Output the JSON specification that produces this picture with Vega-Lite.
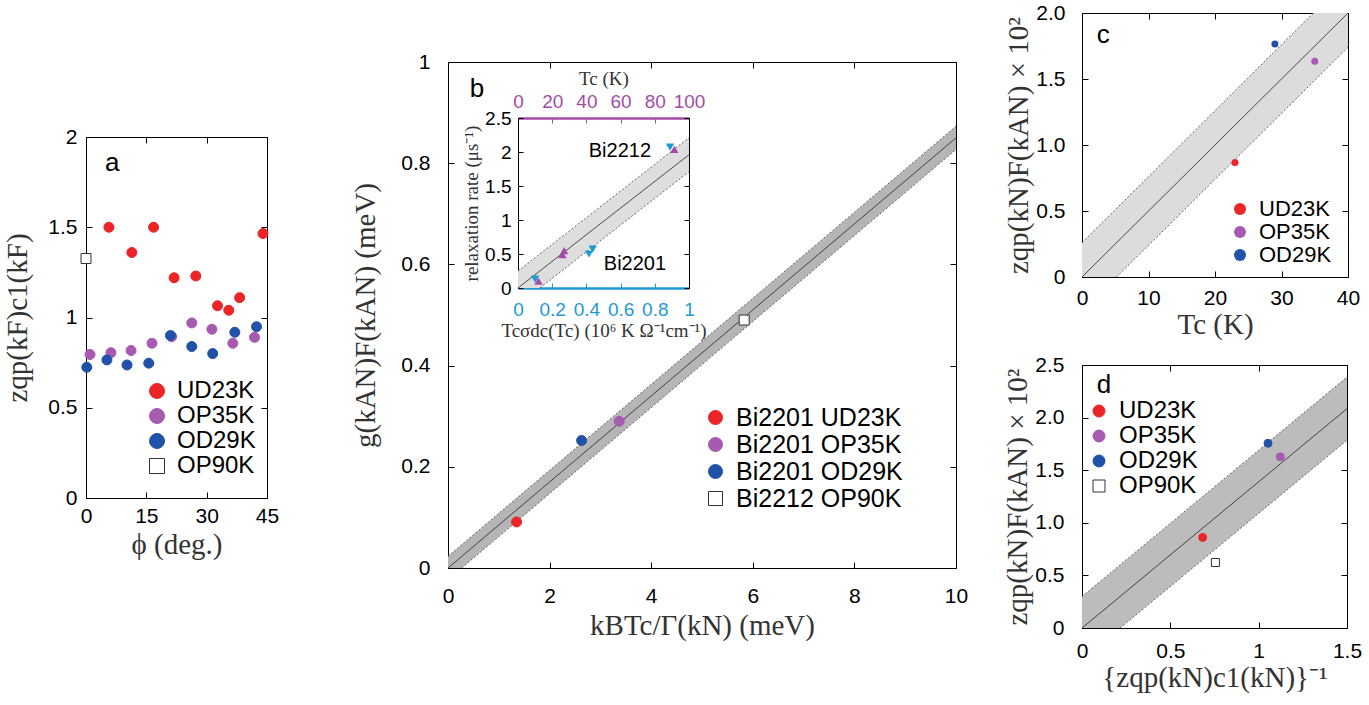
{
"$schema": "https://vega.github.io/schema/vega-lite/v6.json",
"width": 1369, "height": 705, "autosize": "none", "padding": 0, "background": "white",
"config": {
  "view": {"stroke": null},
  "axis": {"grid": false, "zindex": 1, "domainColor": "#000", "domainWidth": 1, "tickColor": "#000", "tickSize": -6, "tickWidth": 1,
    "labelFont": "Liberation Sans", "labelFontSize": 21, "labelColor": "#000", "labelFlush": false, "labelOverlap": false, "labelPadding": 12,
    "titleFont": "Liberation Serif", "titleFontSize": 29, "titleFontWeight": "normal", "titleColor": "#333"},
  "legend": {"labelFont": "Liberation Sans", "labelFontSize": 24, "labelColor": "#000", "labelLimit": 400, "symbolOpacity": 1, "symbolStrokeWidth": 1, "labelOffset": 8, "rowPadding": 1},
  "text": {"font": "Liberation Sans", "color": "#000"}
},
"datasets": {
  "aPts": [
    {"phi": 5.7, "v": 1.50, "s": "UD23K"}, {"phi": 11.4, "v": 1.36, "s": "UD23K"}, {"phi": 16.8, "v": 1.50, "s": "UD23K"},
    {"phi": 21.9, "v": 1.22, "s": "UD23K"}, {"phi": 27.3, "v": 1.23, "s": "UD23K"}, {"phi": 32.7, "v": 1.065, "s": "UD23K"},
    {"phi": 35.5, "v": 1.04, "s": "UD23K"}, {"phi": 38.2, "v": 1.11, "s": "UD23K"}, {"phi": 44.0, "v": 1.465, "s": "UD23K"},
    {"phi": 1.0, "v": 0.795, "s": "OP35K"}, {"phi": 6.2, "v": 0.805, "s": "OP35K"}, {"phi": 11.2, "v": 0.817, "s": "OP35K"},
    {"phi": 16.4, "v": 0.857, "s": "OP35K"}, {"phi": 21.3, "v": 0.894, "s": "OP35K"}, {"phi": 26.3, "v": 0.97, "s": "OP35K"},
    {"phi": 31.3, "v": 0.935, "s": "OP35K"}, {"phi": 36.5, "v": 0.857, "s": "OP35K"}, {"phi": 41.9, "v": 0.89, "s": "OP35K"},
    {"phi": 0.2, "v": 0.724, "s": "OD29K"}, {"phi": 5.2, "v": 0.765, "s": "OD29K"}, {"phi": 10.2, "v": 0.737, "s": "OD29K"},
    {"phi": 15.6, "v": 0.747, "s": "OD29K"}, {"phi": 21.0, "v": 0.90, "s": "OD29K"}, {"phi": 26.3, "v": 0.839, "s": "OD29K"},
    {"phi": 31.5, "v": 0.80, "s": "OD29K"}, {"phi": 37.0, "v": 0.918, "s": "OD29K"}, {"phi": 42.4, "v": 0.949, "s": "OD29K"},
    {"phi": 0.0, "v": 1.327, "s": "OP90K"}
  ],
  "bPts": [
    {"x": 1.35, "y": 0.091, "s": "Bi2201 UD23K"}, {"x": 3.37, "y": 0.290, "s": "Bi2201 OP35K"},
    {"x": 2.63, "y": 0.252, "s": "Bi2201 OD29K"}, {"x": 5.83, "y": 0.490, "s": "Bi2212 OP90K"}
  ],
  "bBand": [{"x": 0, "lo": 0, "hi": 0.023}, {"x": 0.27, "lo": 0, "hi": 0.046}, {"x": 10, "lo": 0.827, "hi": 0.873}],
  "bEdge": [{"x": 0, "y": 0.023, "e": "u"}, {"x": 10, "y": 0.873, "e": "u"}, {"x": 0.27, "y": 0, "e": "l"}, {"x": 10, "y": 0.827, "e": "l"}],
  "bLine": [{"x": 0, "y": 0}, {"x": 10, "y": 0.85}],
  "iBand": [{"x": 0, "lo": 0, "hi": 0.25}, {"x": 0.128, "lo": 0, "hi": 0.5}, {"x": 1, "lo": 1.71, "hi": 2.21}],
  "iEdge": [{"x": 0, "y": 0.25, "e": "u"}, {"x": 1, "y": 2.21, "e": "u"}, {"x": 0.128, "y": 0, "e": "l"}, {"x": 1, "y": 1.71, "e": "l"}],
  "iLine": [{"x": 0, "y": 0}, {"x": 1, "y": 1.96}],
  "iSigma": [{"x": 0.10, "v": 0.13}, {"x": 0.415, "v": 0.50}, {"x": 0.437, "v": 0.57}, {"x": 0.889, "v": 2.07}],
  "iTc": [{"tc": 12, "v": 0.10}, {"tc": 26, "v": 0.49}, {"tc": 27, "v": 0.55}, {"tc": 91.4, "v": 2.04}],
  "cPts": [{"tc": 23, "v": 0.868, "s": "UD23K"}, {"tc": 35, "v": 1.635, "s": "OP35K"}, {"tc": 29, "v": 1.765, "s": "OD29K"}],
  "cBand": [{"x": 0, "lo": 0, "hi": 0.26}, {"x": 5.2, "lo": 0, "hi": 0.52}, {"x": 34.8, "lo": 1.48, "hi": 2.0}, {"x": 40, "lo": 1.74, "hi": 2.0}],
  "cEdge": [{"x": 0, "y": 0.26, "e": "u"}, {"x": 34.8, "y": 2.0, "e": "u"}, {"x": 5.2, "y": 0, "e": "l"}, {"x": 40, "y": 1.74, "e": "l"}],
  "cLine": [{"x": 0, "y": 0}, {"x": 40, "y": 2.0}],
  "dPts": [{"x": 0.683, "y": 0.861, "s": "UD23K"}, {"x": 1.123, "y": 1.627, "s": "OP35K"}, {"x": 1.053, "y": 1.756, "s": "OD29K"}, {"x": 0.755, "y": 0.623, "s": "OP90K"}],
  "dBand": [{"x": 0, "lo": 0, "hi": 0.3}, {"x": 0.216, "lo": 0, "hi": 0.6}, {"x": 1.5, "lo": 1.785, "hi": 2.385}],
  "dEdge": [{"x": 0, "y": 0.3, "e": "u"}, {"x": 1.5, "y": 2.385, "e": "u"}, {"x": 0.216, "y": 0, "e": "l"}, {"x": 1.5, "y": 1.785, "e": "l"}],
  "dLine": [{"x": 0, "y": 0}, {"x": 1.5, "y": 2.085}]
},
"layer": [
  {"data": {"name": "aPts"},
   "mark": {"type": "point", "filled": true, "opacity": 1, "size": 100, "strokeWidth": 1},
   "encoding": {
     "x": {"field": "phi", "type": "quantitative", "scale": {"domain": [0, 45], "range": [86, 267], "nice": false, "zero": false},
       "axis": {"orient": "bottom", "offset": -207, "values": [0, 15, 30, 45], "labelPadding": 13, "title": "ϕ (deg.)", "titlePadding": 4}},
     "y": {"field": "v", "type": "quantitative", "scale": {"domain": [0, 2], "range": [498, 137], "nice": false, "zero": false},
       "axis": {"orient": "left", "offset": -86, "values": [0, 0.5, 1, 1.5, 2], "format": "~g", "labelPadding": 15, "title": "zqp(kF)c1(kF)", "titlePadding": 15}},
     "fill": {"field": "s", "type": "nominal", "scale": {"domain": ["UD23K", "OP35K", "OD29K", "OP90K"], "range": ["#eb2428", "#a65ab0", "#2152a8", "#ffffff"]},
       "legend": {"title": null, "orient": "none", "legendX": 145, "legendY": 379, "symbolSize": 225}},
     "stroke": {"field": "s", "type": "nominal", "scale": {"domain": ["UD23K", "OP35K", "OD29K", "OP90K"], "range": ["#eb2428", "#a65ab0", "#2152a8", "#333333"]},
       "legend": {"title": null, "orient": "none", "legendX": 145, "legendY": 379, "symbolSize": 225}},
     "shape": {"field": "s", "type": "nominal", "scale": {"domain": ["UD23K", "OP35K", "OD29K", "OP90K"], "range": ["circle", "circle", "circle", "square"]},
       "legend": {"title": null, "orient": "none", "legendX": 145, "legendY": 379, "symbolSize": 225}}
   }},
  {"data": {"values": [{}]},
   "mark": {"type": "text", "fontSize": 26},
   "encoding": {
     "x": {"datum": 6.5, "type": "quantitative", "scale": {"domain": [0, 45], "range": [86, 267], "nice": false, "zero": false},
       "axis": {"orient": "top", "offset": -137, "values": [0, 15, 30, 45], "labels": false, "title": null}},
     "y": {"datum": 1.856, "type": "quantitative", "scale": {"domain": [0, 2], "range": [498, 137], "nice": false, "zero": false},
       "axis": {"orient": "right", "offset": -1102, "values": [0, 0.5, 1, 1.5, 2], "labels": false, "title": null}},
     "text": {"value": "a"}
   }},

  {"data": {"name": "bBand"},
   "mark": {"type": "area", "color": "#b5b5b5", "opacity": 1},
   "encoding": {
     "x": {"field": "x", "type": "quantitative", "scale": {"domain": [0, 10], "range": [448, 956], "nice": false, "zero": false}, "axis": null},
     "y": {"field": "hi", "type": "quantitative", "scale": {"domain": [0, 1], "range": [568, 62], "nice": false, "zero": false}, "axis": null},
     "y2": {"field": "lo"}
   }},
  {"data": {"name": "bEdge"},
   "mark": {"type": "line", "color": "#444", "strokeWidth": 0.8, "strokeDash": [2, 2]},
   "encoding": {
     "x": {"field": "x", "type": "quantitative", "scale": {"domain": [0, 10], "range": [448, 956], "nice": false, "zero": false}, "axis": null},
     "y": {"field": "y", "type": "quantitative", "scale": {"domain": [0, 1], "range": [568, 62], "nice": false, "zero": false}, "axis": null},
     "detail": {"field": "e"}
   }},
  {"data": {"name": "bLine"},
   "mark": {"type": "line", "color": "#222", "strokeWidth": 0.8},
   "encoding": {
     "x": {"field": "x", "type": "quantitative", "scale": {"domain": [0, 10], "range": [448, 956], "nice": false, "zero": false}, "axis": null},
     "y": {"field": "y", "type": "quantitative", "scale": {"domain": [0, 1], "range": [568, 62], "nice": false, "zero": false}, "axis": null}
   }},
  {"data": {"name": "bPts"},
   "mark": {"type": "point", "filled": true, "opacity": 1, "size": 100, "strokeWidth": 1},
   "encoding": {
     "x": {"field": "x", "type": "quantitative", "scale": {"domain": [0, 10], "range": [448, 956], "nice": false, "zero": false},
       "axis": {"orient": "bottom", "offset": -137, "values": [0, 2, 4, 6, 8, 10], "labelPadding": 23, "title": "kBTc/Γ(kN) (meV)", "titlePadding": 5}},
     "y": {"field": "y", "type": "quantitative", "scale": {"domain": [0, 1], "range": [568, 62], "nice": false, "zero": false},
       "axis": {"orient": "left", "offset": -448, "values": [0, 0.2, 0.4, 0.6, 0.8, 1], "format": "~g", "labelPadding": 24, "title": "g(kAN)F(kAN) (meV)", "titlePadding": 20}},
     "fill": {"field": "s", "type": "nominal", "scale": {"domain": ["Bi2201 UD23K", "Bi2201 OP35K", "Bi2201 OD29K", "Bi2212 OP90K"], "range": ["#eb2428", "#a65ab0", "#2152a8", "#ffffff"]},
       "legend": {"title": null, "orient": "none", "legendX": 703, "legendY": 405, "symbolSize": 196, "labelFontSize": 25}},
     "stroke": {"field": "s", "type": "nominal", "scale": {"domain": ["Bi2201 UD23K", "Bi2201 OP35K", "Bi2201 OD29K", "Bi2212 OP90K"], "range": ["#eb2428", "#a65ab0", "#2152a8", "#333333"]},
       "legend": {"title": null, "orient": "none", "legendX": 703, "legendY": 405, "symbolSize": 196, "labelFontSize": 25}},
     "shape": {"field": "s", "type": "nominal", "scale": {"domain": ["Bi2201 UD23K", "Bi2201 OP35K", "Bi2201 OD29K", "Bi2212 OP90K"], "range": ["circle", "circle", "circle", "square"]},
       "legend": {"title": null, "orient": "none", "legendX": 703, "legendY": 405, "symbolSize": 196, "labelFontSize": 25}}
   }},
  {"data": {"values": [{}]},
   "mark": {"type": "text", "fontSize": 26},
   "encoding": {
     "x": {"datum": 0.57, "type": "quantitative", "scale": {"domain": [0, 10], "range": [448, 956], "nice": false, "zero": false},
       "axis": {"orient": "top", "offset": -62, "values": [0, 2, 4, 6, 8, 10], "labels": false, "title": null}},
     "y": {"datum": 0.947, "type": "quantitative", "scale": {"domain": [0, 1], "range": [568, 62], "nice": false, "zero": false},
       "axis": {"orient": "right", "offset": -413, "values": [0, 0.2, 0.4, 0.6, 0.8, 1], "labels": false, "title": null}},
     "text": {"value": "b"}
   }},

  {"data": {"name": "iBand"},
   "mark": {"type": "area", "color": "#dedede", "opacity": 1},
   "encoding": {
     "x": {"field": "x", "type": "quantitative", "scale": {"domain": [0, 1], "range": [518, 689], "nice": false, "zero": false}, "axis": null},
     "y": {"field": "hi", "type": "quantitative", "scale": {"domain": [0, 2.5], "range": [288, 118], "nice": false, "zero": false}, "axis": null},
     "y2": {"field": "lo"}
   }},
  {"data": {"name": "iEdge"},
   "mark": {"type": "line", "color": "#444", "strokeWidth": 0.8, "strokeDash": [2, 2]},
   "encoding": {
     "x": {"field": "x", "type": "quantitative", "scale": {"domain": [0, 1], "range": [518, 689], "nice": false, "zero": false}, "axis": null},
     "y": {"field": "y", "type": "quantitative", "scale": {"domain": [0, 2.5], "range": [288, 118], "nice": false, "zero": false}, "axis": null},
     "detail": {"field": "e"}
   }},
  {"data": {"name": "iLine"},
   "mark": {"type": "line", "color": "#222", "strokeWidth": 0.8},
   "encoding": {
     "x": {"field": "x", "type": "quantitative", "scale": {"domain": [0, 1], "range": [518, 689], "nice": false, "zero": false}, "axis": null},
     "y": {"field": "y", "type": "quantitative", "scale": {"domain": [0, 2.5], "range": [288, 118], "nice": false, "zero": false}, "axis": null}
   }},
  {"data": {"name": "iSigma"},
   "mark": {"type": "point", "filled": true, "opacity": 1, "size": 70, "shape": "triangle-down", "color": "#1c9ad6"},
   "encoding": {
     "x": {"field": "x", "type": "quantitative", "scale": {"domain": [0, 1], "range": [518, 689], "nice": false, "zero": false},
       "axis": {"orient": "bottom", "offset": -417, "values": [0, 0.2, 0.4, 0.6, 0.8, 1], "format": "~g", "labelColor": "#1c9ad6", "domainColor": "#1c9ad6", "domainWidth": 2.5, "tickColor": "#1c9ad6", "tickSize": -5, "labelFontSize": 19, "labelPadding": 17,
         "title": "Tcσdc(Tc) (10⁶ K Ω⁻¹cm⁻¹)", "titleFontSize": 19, "titlePadding": 2}},
     "y": {"field": "v", "type": "quantitative", "scale": {"domain": [0, 2.5], "range": [288, 118], "nice": false, "zero": false},
       "axis": {"orient": "left", "offset": -518, "values": [0, 0.5, 1, 1.5, 2, 2.5], "format": "~g", "tickSize": -5, "labelFontSize": 19, "labelPadding": 12,
         "title": "relaxation rate (μs⁻¹)", "titleFontSize": 19, "titlePadding": 3}}
   }},
  {"data": {"name": "iTc"},
   "mark": {"type": "point", "filled": true, "opacity": 1, "size": 70, "shape": "triangle-up", "color": "#a34ca6"},
   "encoding": {
     "x": {"field": "tc", "type": "quantitative", "scale": {"domain": [0, 100], "range": [518, 689], "nice": false, "zero": false},
       "axis": {"orient": "top", "offset": -118, "values": [0, 20, 40, 60, 80, 100], "labelColor": "#a34ca6", "domainColor": "#a34ca6", "domainWidth": 2.5, "tickColor": "#a34ca6", "tickSize": -5, "labelFontSize": 19, "labelPadding": 12,
         "title": "Tc (K)", "titleFontSize": 19, "titlePadding": 4}},
     "y": {"field": "v", "type": "quantitative", "scale": {"domain": [0, 2.5], "range": [288, 118], "nice": false, "zero": false},
       "axis": {"orient": "right", "offset": -680, "values": [0, 0.5, 1, 1.5, 2, 2.5], "tickSize": -5, "labels": false, "title": null}}
   }},
  {"data": {"values": [{}]},
   "mark": {"type": "text", "fontSize": 20},
   "encoding": {
     "x": {"datum": 0.596, "type": "quantitative", "scale": {"domain": [0, 1], "range": [518, 689], "nice": false, "zero": false}, "axis": null},
     "y": {"datum": 2.01, "type": "quantitative", "scale": {"domain": [0, 2.5], "range": [288, 118], "nice": false, "zero": false}, "axis": null},
     "text": {"value": "Bi2212"}
   }},
  {"data": {"values": [{}]},
   "mark": {"type": "text", "fontSize": 20},
   "encoding": {
     "x": {"datum": 0.684, "type": "quantitative", "scale": {"domain": [0, 1], "range": [518, 689], "nice": false, "zero": false}, "axis": null},
     "y": {"datum": 0.35, "type": "quantitative", "scale": {"domain": [0, 2.5], "range": [288, 118], "nice": false, "zero": false}, "axis": null},
     "text": {"value": "Bi2201"}
   }},

  {"data": {"name": "cBand"},
   "mark": {"type": "area", "color": "#dcdcdc", "opacity": 1},
   "encoding": {
     "x": {"field": "x", "type": "quantitative", "scale": {"domain": [0, 40], "range": [1082, 1348], "nice": false, "zero": false}, "axis": null},
     "y": {"field": "hi", "type": "quantitative", "scale": {"domain": [0, 2], "range": [277, 13], "nice": false, "zero": false}, "axis": null},
     "y2": {"field": "lo"}
   }},
  {"data": {"name": "cEdge"},
   "mark": {"type": "line", "color": "#444", "strokeWidth": 0.8, "strokeDash": [2, 2]},
   "encoding": {
     "x": {"field": "x", "type": "quantitative", "scale": {"domain": [0, 40], "range": [1082, 1348], "nice": false, "zero": false}, "axis": null},
     "y": {"field": "y", "type": "quantitative", "scale": {"domain": [0, 2], "range": [277, 13], "nice": false, "zero": false}, "axis": null},
     "detail": {"field": "e"}
   }},
  {"data": {"name": "cLine"},
   "mark": {"type": "line", "color": "#222", "strokeWidth": 0.8},
   "encoding": {
     "x": {"field": "x", "type": "quantitative", "scale": {"domain": [0, 40], "range": [1082, 1348], "nice": false, "zero": false}, "axis": null},
     "y": {"field": "y", "type": "quantitative", "scale": {"domain": [0, 2], "range": [277, 13], "nice": false, "zero": false}, "axis": null}
   }},
  {"data": {"name": "cPts"},
   "mark": {"type": "point", "filled": true, "opacity": 1, "size": 49},
   "encoding": {
     "x": {"field": "tc", "type": "quantitative", "scale": {"domain": [0, 40], "range": [1082, 1348], "nice": false, "zero": false},
       "axis": {"orient": "bottom", "offset": -428, "values": [0, 10, 20, 30, 40], "labelPadding": 16, "title": "Tc (K)", "titlePadding": 2}},
     "y": {"field": "v", "type": "quantitative", "scale": {"domain": [0, 2], "range": [277, 13], "nice": false, "zero": false},
       "axis": {"orient": "left", "offset": -1082, "values": [0, 0.5, 1, 1.5, 2], "labelExpr": "datum.value == 0 ? '0' : format(datum.value, '.1f')", "labelPadding": 23, "title": "zqp(kN)F(kAN) × 10²", "titlePadding": 2}},
     "color": {"field": "s", "type": "nominal", "scale": {"domain": ["UD23K", "OP35K", "OD29K"], "range": ["#eb2428", "#a65ab0", "#2152a8"]},
       "legend": {"title": null, "orient": "none", "legendX": 1229, "legendY": 198, "symbolSize": 144, "symbolType": "circle", "labelFontSize": 22, "rowPadding": 1}}
   }},
  {"data": {"values": [{}]},
   "mark": {"type": "text", "fontSize": 26},
   "encoding": {
     "x": {"datum": 3.2, "type": "quantitative", "scale": {"domain": [0, 40], "range": [1082, 1348], "nice": false, "zero": false},
       "axis": {"orient": "top", "offset": -13, "values": [0, 10, 20, 30, 40], "labels": false, "title": null}},
     "y": {"datum": 1.83, "type": "quantitative", "scale": {"domain": [0, 2], "range": [277, 13], "nice": false, "zero": false},
       "axis": {"orient": "right", "offset": -21, "values": [0, 0.5, 1, 1.5, 2], "labels": false, "title": null}},
     "text": {"value": "c"}
   }},

  {"data": {"name": "dBand"},
   "mark": {"type": "area", "color": "#bcbcbc", "opacity": 1},
   "encoding": {
     "x": {"field": "x", "type": "quantitative", "scale": {"domain": [0, 1.5], "range": [1082, 1347], "nice": false, "zero": false}, "axis": null},
     "y": {"field": "hi", "type": "quantitative", "scale": {"domain": [0, 2.5], "range": [628, 365], "nice": false, "zero": false}, "axis": null},
     "y2": {"field": "lo"}
   }},
  {"data": {"name": "dEdge"},
   "mark": {"type": "line", "color": "#444", "strokeWidth": 0.8, "strokeDash": [2, 2]},
   "encoding": {
     "x": {"field": "x", "type": "quantitative", "scale": {"domain": [0, 1.5], "range": [1082, 1347], "nice": false, "zero": false}, "axis": null},
     "y": {"field": "y", "type": "quantitative", "scale": {"domain": [0, 2.5], "range": [628, 365], "nice": false, "zero": false}, "axis": null},
     "detail": {"field": "e"}
   }},
  {"data": {"name": "dLine"},
   "mark": {"type": "line", "color": "#222", "strokeWidth": 0.8},
   "encoding": {
     "x": {"field": "x", "type": "quantitative", "scale": {"domain": [0, 1.5], "range": [1082, 1347], "nice": false, "zero": false}, "axis": null},
     "y": {"field": "y", "type": "quantitative", "scale": {"domain": [0, 2.5], "range": [628, 365], "nice": false, "zero": false}, "axis": null}
   }},
  {"data": {"name": "dPts"},
   "mark": {"type": "point", "filled": true, "opacity": 1, "size": 64, "strokeWidth": 1},
   "encoding": {
     "x": {"field": "x", "type": "quantitative", "scale": {"domain": [0, 1.5], "range": [1082, 1347], "nice": false, "zero": false},
       "axis": {"orient": "bottom", "offset": -77, "values": [0, 0.5, 1, 1.5], "format": "~g", "labelPadding": 18, "title": "{zqp(kN)c1(kN)}⁻¹", "titlePadding": 2}},
     "y": {"field": "y", "type": "quantitative", "scale": {"domain": [0, 2.5], "range": [628, 365], "nice": false, "zero": false},
       "axis": {"orient": "left", "offset": -1082, "values": [0, 0.5, 1, 1.5, 2, 2.5], "labelExpr": "datum.value == 0 ? '0' : format(datum.value, '.1f')", "labelPadding": 24, "title": "zqp(kN)F(kAN) × 10²", "titlePadding": 2}},
     "fill": {"field": "s", "type": "nominal", "scale": {"domain": ["UD23K", "OP35K", "OD29K", "OP90K"], "range": ["#eb2428", "#a65ab0", "#2152a8", "#ffffff"]},
       "legend": {"title": null, "orient": "none", "legendX": 1087, "legendY": 399, "symbolSize": 144}},
     "stroke": {"field": "s", "type": "nominal", "scale": {"domain": ["UD23K", "OP35K", "OD29K", "OP90K"], "range": ["#eb2428", "#a65ab0", "#2152a8", "#333333"]},
       "legend": {"title": null, "orient": "none", "legendX": 1087, "legendY": 399, "symbolSize": 144}},
     "shape": {"field": "s", "type": "nominal", "scale": {"domain": ["UD23K", "OP35K", "OD29K", "OP90K"], "range": ["circle", "circle", "circle", "square"]},
       "legend": {"title": null, "orient": "none", "legendX": 1087, "legendY": 399, "symbolSize": 144}}
   }},
  {"data": {"values": [{}]},
   "mark": {"type": "text", "fontSize": 26},
   "encoding": {
     "x": {"datum": 0.125, "type": "quantitative", "scale": {"domain": [0, 1.5], "range": [1082, 1347], "nice": false, "zero": false},
       "axis": {"orient": "top", "offset": -365, "values": [0, 0.5, 1, 1.5], "labels": false, "title": null}},
     "y": {"datum": 2.31, "type": "quantitative", "scale": {"domain": [0, 2.5], "range": [628, 365], "nice": false, "zero": false},
       "axis": {"orient": "right", "offset": -22, "values": [0, 0.5, 1, 1.5, 2, 2.5], "labels": false, "title": null}},
     "text": {"value": "d"}
   }}
],
"resolve": {
  "scale": {"x": "independent", "y": "independent", "fill": "independent", "stroke": "independent", "shape": "independent", "color": "independent"},
  "axis": {"x": "independent", "y": "independent"},
  "legend": {"fill": "independent", "stroke": "independent", "shape": "independent", "color": "independent"}
}
}
